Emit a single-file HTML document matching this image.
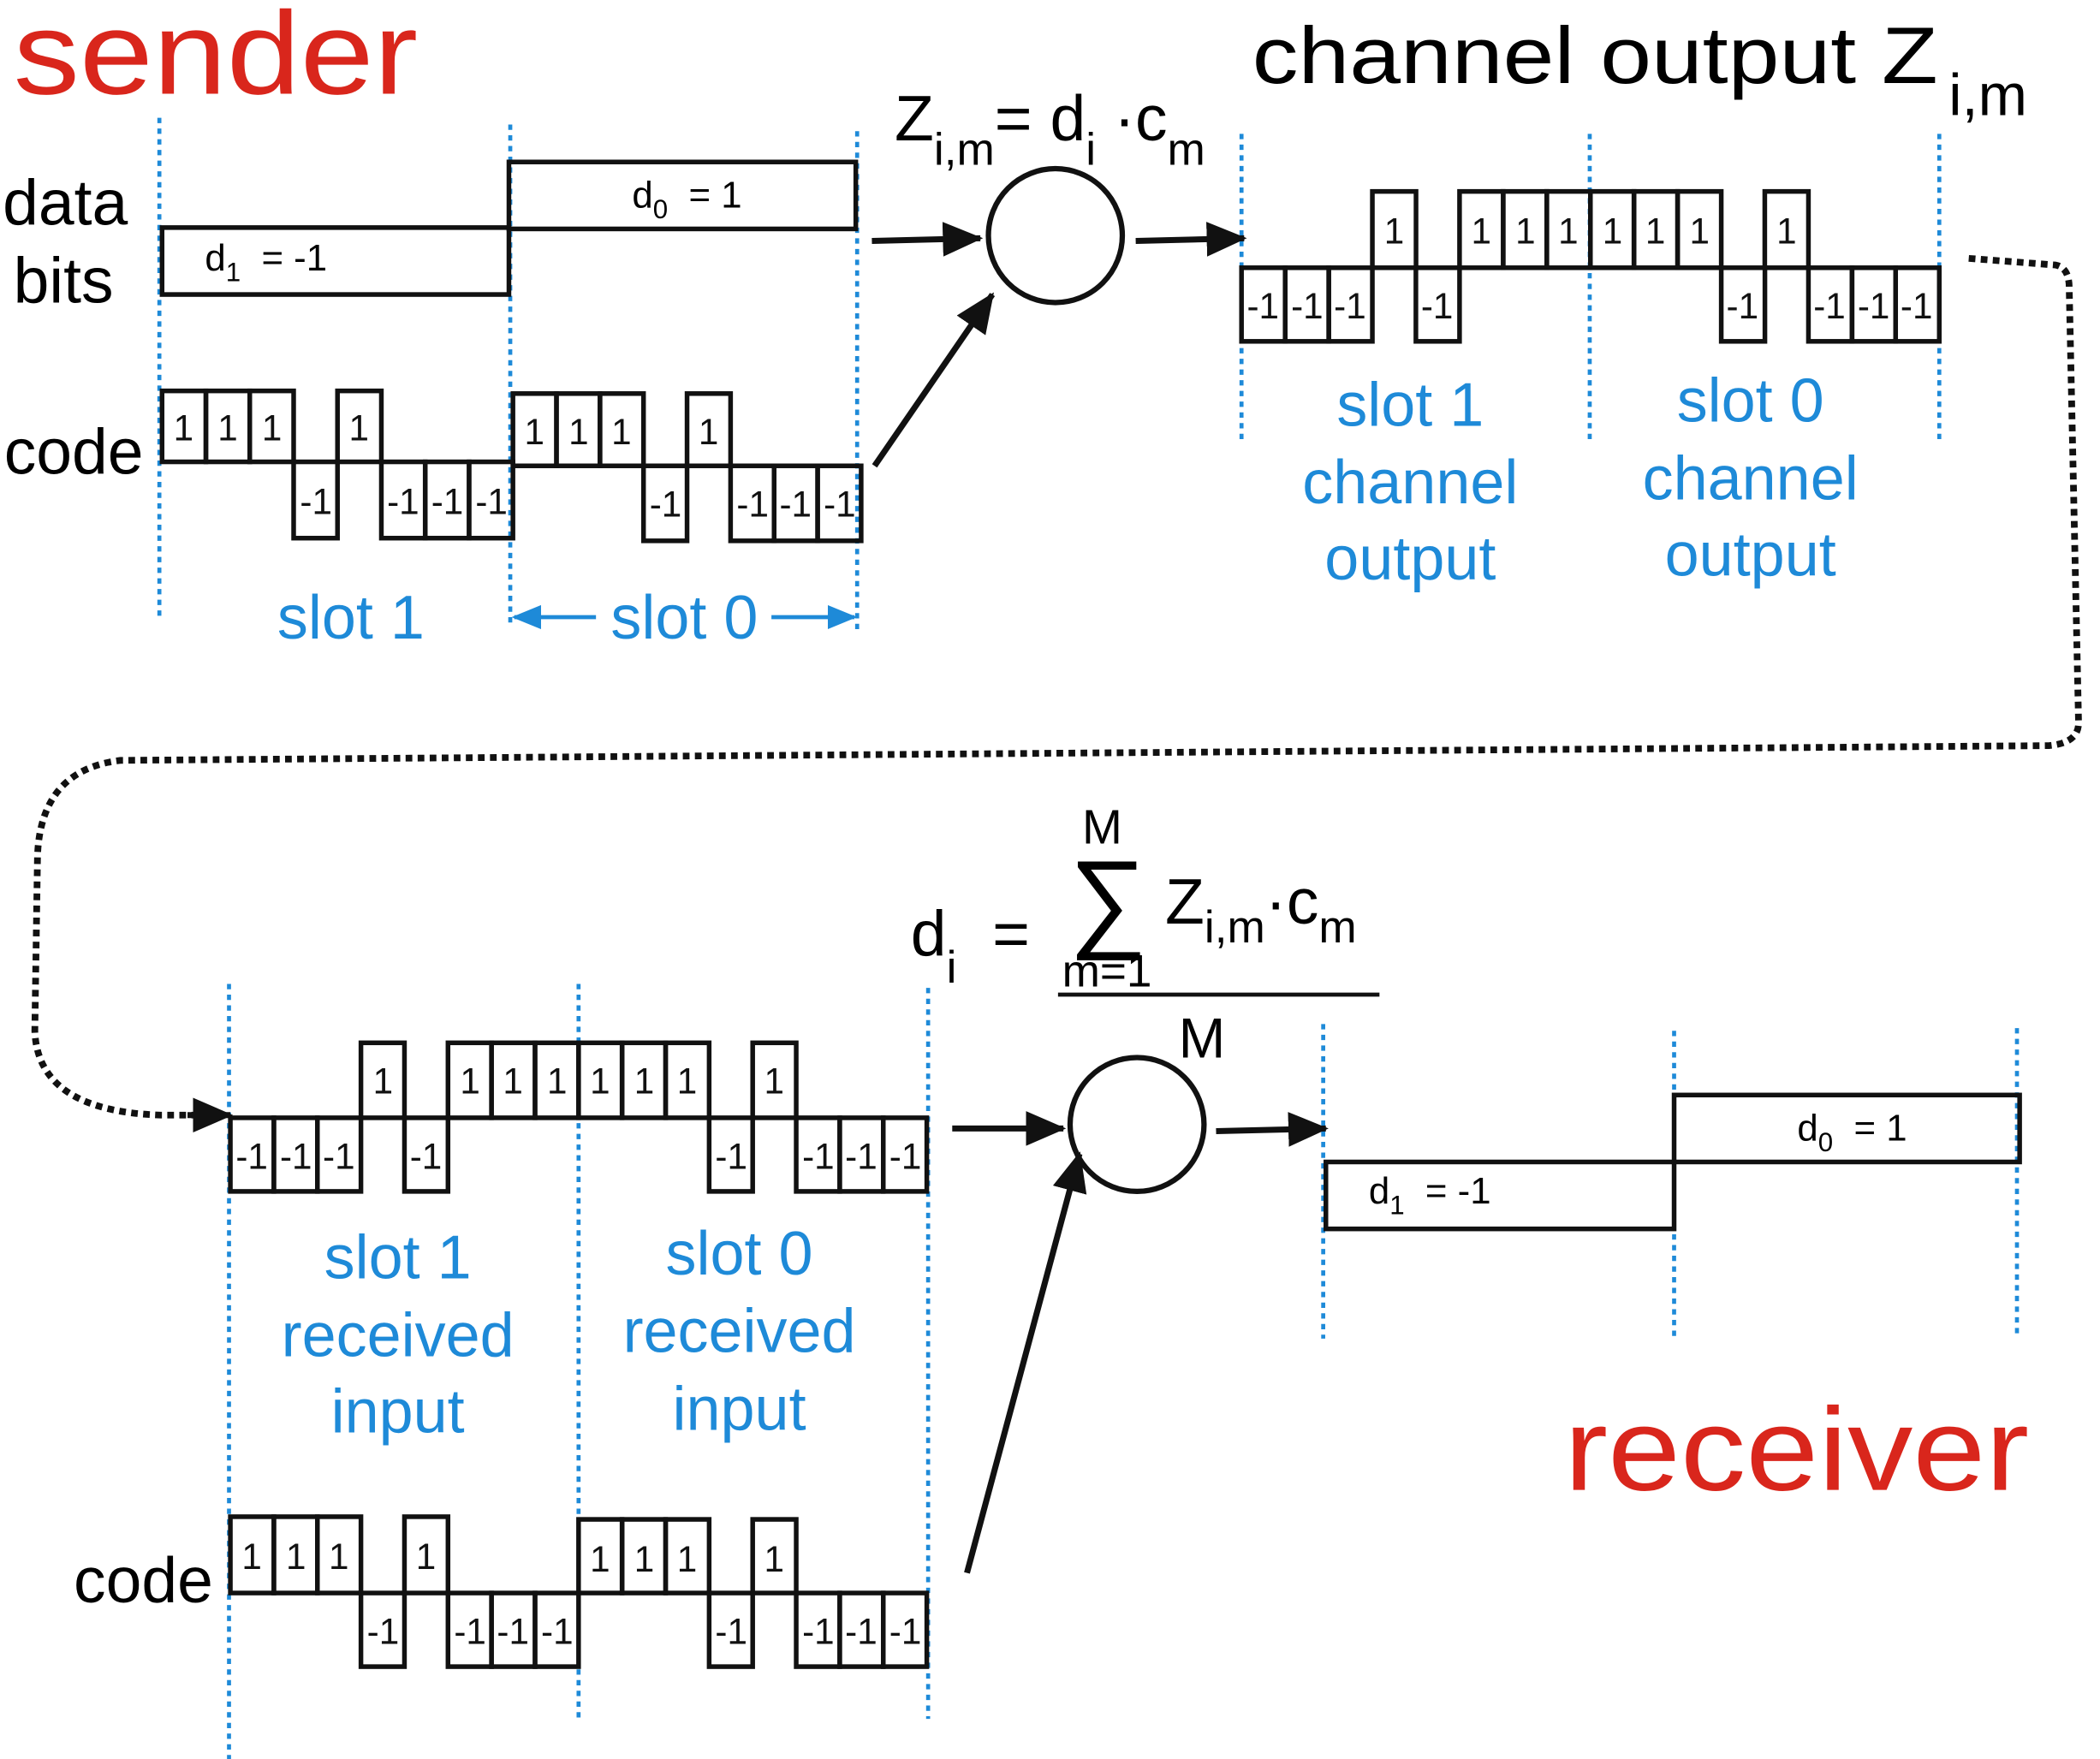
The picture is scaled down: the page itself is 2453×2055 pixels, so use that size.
<!DOCTYPE html>
<html><head><style>
html,body{margin:0;padding:0;background:#fff;}
svg{display:block;}
text{font-family:"Liberation Sans",sans-serif;}
.c{font-size:27px;text-anchor:middle;fill:#111;}
.b{fill:#1e8ad8;font-size:46px;text-anchor:middle;}
.r{fill:none;stroke:#111;stroke-width:3.5;}
.d{stroke:#1e8ad8;stroke-width:3;stroke-dasharray:4 4;}
.a{stroke:#111;stroke-width:4.5;}
</style></head><body>
<svg width="2453" height="2055" viewBox="0 0 1568 1314" preserveAspectRatio="none" xmlns="http://www.w3.org/2000/svg">
<defs>
<marker id="ah" markerWidth="30" markerHeight="26" refX="28" refY="13" orient="auto" markerUnits="userSpaceOnUse"><path d="M0,0 L30,13 L0,26 z" fill="#111"/></marker>
<marker id="bh" markerWidth="22" markerHeight="18" refX="20" refY="9" orient="auto" markerUnits="userSpaceOnUse"><path d="M0,0 L22,9 L0,18 z" fill="#1e8ad8"/></marker></defs>

<line class="d" x1="119" y1="88" x2="119" y2="460"/>
<line class="d" x1="381" y1="93" x2="381" y2="465"/>
<line class="d" x1="640" y1="98" x2="640" y2="470"/>
<line class="d" x1="927" y1="100" x2="927" y2="330"/>
<line class="d" x1="1187" y1="100" x2="1187" y2="330"/>
<line class="d" x1="1448" y1="100" x2="1448" y2="330"/>
<line class="d" x1="171" y1="735" x2="171" y2="1314"/>
<line class="d" x1="432" y1="735" x2="432" y2="1284"/>
<line class="d" x1="693" y1="738" x2="693" y2="1284"/>
<line class="d" x1="988" y1="765" x2="988" y2="1000"/>
<line class="d" x1="1250" y1="770" x2="1250" y2="1000"/>
<line class="d" x1="1506" y1="768" x2="1506" y2="1000"/>

<text x="10" y="70" font-size="88" fill="#d9261c" textLength="302" lengthAdjust="spacingAndGlyphs">sender</text>
<text x="1168" y="1113" font-size="88" fill="#d9261c" textLength="347" lengthAdjust="spacingAndGlyphs">receiver</text>
<text x="2" y="168" font-size="48">data</text>
<text x="10" y="226" font-size="48">bits</text>
<text x="3" y="354" font-size="48">code</text>
<text x="55" y="1197" font-size="48">code</text>

<rect class="r" x="121" y="170" width="259" height="50"/>
<rect class="r" x="380" y="121" width="259" height="50"/>
<text x="153" y="202" font-size="28">d<tspan font-size="20" dy="8">1</tspan><tspan dy="-8"> &#160;= -1</tspan></text>
<text x="472" y="155" font-size="28">d<tspan font-size="20" dy="8">0</tspan><tspan dy="-8"> &#160;= 1</tspan></text>
<rect class="r" x="990" y="868" width="260" height="50"/>
<rect class="r" x="1250" y="818" width="258" height="50"/>
<text x="1022" y="899" font-size="28">d<tspan font-size="20" dy="8">1</tspan><tspan dy="-8"> &#160;= -1</tspan></text>
<text x="1342" y="852" font-size="28">d<tspan font-size="20" dy="8">0</tspan><tspan dy="-8"> &#160;= 1</tspan></text>

<g>
<rect class="r" x="121" y="292" width="32.75" height="53"/><text class="c" x="137" y="329">1</text>
<rect class="r" x="153.75" y="292" width="32.75" height="53"/><text class="c" x="170" y="329">1</text>
<rect class="r" x="186.5" y="292" width="32.75" height="53"/><text class="c" x="203" y="329">1</text>
<rect class="r" x="219.25" y="345" width="32.75" height="57"/><text class="c" x="236" y="384">-1</text>
<rect class="r" x="252" y="292" width="32.75" height="53"/><text class="c" x="268" y="329">1</text>
<rect class="r" x="284.75" y="345" width="32.75" height="57"/><text class="c" x="301" y="384">-1</text>
<rect class="r" x="317.5" y="345" width="32.75" height="57"/><text class="c" x="334" y="384">-1</text>
<rect class="r" x="350.25" y="345" width="32.75" height="57"/><text class="c" x="367" y="384">-1</text>
<rect class="r" x="383" y="294" width="32.5" height="54"/><text class="c" x="399" y="332">1</text>
<rect class="r" x="415.5" y="294" width="32.5" height="54"/><text class="c" x="432" y="332">1</text>
<rect class="r" x="448" y="294" width="32.5" height="54"/><text class="c" x="464" y="332">1</text>
<rect class="r" x="480.5" y="348" width="32.5" height="56"/><text class="c" x="497" y="386">-1</text>
<rect class="r" x="513" y="294" width="32.5" height="54"/><text class="c" x="529" y="332">1</text>
<rect class="r" x="545.5" y="348" width="32.5" height="56"/><text class="c" x="562" y="386">-1</text>
<rect class="r" x="578" y="348" width="32.5" height="56"/><text class="c" x="594" y="386">-1</text>
<rect class="r" x="610.5" y="348" width="32.5" height="56"/><text class="c" x="627" y="386">-1</text>
</g>

<g>
<rect class="r" x="927" y="200" width="32.6" height="55"/><text class="c" x="943" y="238">-1</text>
<rect class="r" x="959.6" y="200" width="32.6" height="55"/><text class="c" x="976" y="238">-1</text>
<rect class="r" x="992.1" y="200" width="32.6" height="55"/><text class="c" x="1008" y="238">-1</text>
<rect class="r" x="1024.7" y="143" width="32.6" height="57"/><text class="c" x="1041" y="182">1</text>
<rect class="r" x="1057.2" y="200" width="32.6" height="55"/><text class="c" x="1073" y="238">-1</text>
<rect class="r" x="1089.8" y="143" width="32.6" height="57"/><text class="c" x="1106" y="182">1</text>
<rect class="r" x="1122.4" y="143" width="32.6" height="57"/><text class="c" x="1139" y="182">1</text>
<rect class="r" x="1154.9" y="143" width="32.6" height="57"/><text class="c" x="1171" y="182">1</text>
<rect class="r" x="1187.5" y="143" width="32.6" height="57"/><text class="c" x="1204" y="182">1</text>
<rect class="r" x="1220" y="143" width="32.6" height="57"/><text class="c" x="1236" y="182">1</text>
<rect class="r" x="1252.6" y="143" width="32.6" height="57"/><text class="c" x="1269" y="182">1</text>
<rect class="r" x="1285.2" y="200" width="32.6" height="55"/><text class="c" x="1301" y="238">-1</text>
<rect class="r" x="1317.7" y="143" width="32.6" height="57"/><text class="c" x="1334" y="182">1</text>
<rect class="r" x="1350.3" y="200" width="32.6" height="55"/><text class="c" x="1366" y="238">-1</text>
<rect class="r" x="1382.8" y="200" width="32.6" height="55"/><text class="c" x="1399" y="238">-1</text>
<rect class="r" x="1415.4" y="200" width="32.6" height="55"/><text class="c" x="1431" y="238">-1</text>
</g>

<g>
<rect class="r" x="172" y="835" width="32.5" height="55"/><text class="c" x="188" y="873">-1</text>
<rect class="r" x="204.5" y="835" width="32.5" height="55"/><text class="c" x="221" y="873">-1</text>
<rect class="r" x="237" y="835" width="32.5" height="55"/><text class="c" x="253" y="873">-1</text>
<rect class="r" x="269.5" y="779" width="32.5" height="56"/><text class="c" x="286" y="817">1</text>
<rect class="r" x="302" y="835" width="32.5" height="55"/><text class="c" x="318" y="873">-1</text>
<rect class="r" x="334.5" y="779" width="32.5" height="56"/><text class="c" x="351" y="817">1</text>
<rect class="r" x="367" y="779" width="32.5" height="56"/><text class="c" x="383" y="817">1</text>
<rect class="r" x="399.5" y="779" width="32.5" height="56"/><text class="c" x="416" y="817">1</text>
<rect class="r" x="432" y="779" width="32.5" height="56"/><text class="c" x="448" y="817">1</text>
<rect class="r" x="464.5" y="779" width="32.5" height="56"/><text class="c" x="481" y="817">1</text>
<rect class="r" x="497" y="779" width="32.5" height="56"/><text class="c" x="513" y="817">1</text>
<rect class="r" x="529.5" y="835" width="32.5" height="55"/><text class="c" x="546" y="873">-1</text>
<rect class="r" x="562" y="779" width="32.5" height="56"/><text class="c" x="578" y="817">1</text>
<rect class="r" x="594.5" y="835" width="32.5" height="55"/><text class="c" x="611" y="873">-1</text>
<rect class="r" x="627" y="835" width="32.5" height="55"/><text class="c" x="643" y="873">-1</text>
<rect class="r" x="659.5" y="835" width="32.5" height="55"/><text class="c" x="676" y="873">-1</text>
</g>

<g>
<rect class="r" x="172" y="1133" width="32.5" height="57"/><text class="c" x="188" y="1172">1</text>
<rect class="r" x="204.5" y="1133" width="32.5" height="57"/><text class="c" x="221" y="1172">1</text>
<rect class="r" x="237" y="1133" width="32.5" height="57"/><text class="c" x="253" y="1172">1</text>
<rect class="r" x="269.5" y="1190" width="32.5" height="55"/><text class="c" x="286" y="1228">-1</text>
<rect class="r" x="302" y="1133" width="32.5" height="57"/><text class="c" x="318" y="1172">1</text>
<rect class="r" x="334.5" y="1190" width="32.5" height="55"/><text class="c" x="351" y="1228">-1</text>
<rect class="r" x="367" y="1190" width="32.5" height="55"/><text class="c" x="383" y="1228">-1</text>
<rect class="r" x="399.5" y="1190" width="32.5" height="55"/><text class="c" x="416" y="1228">-1</text>
<rect class="r" x="432" y="1135" width="32.5" height="55"/><text class="c" x="448" y="1174">1</text>
<rect class="r" x="464.5" y="1135" width="32.5" height="55"/><text class="c" x="481" y="1174">1</text>
<rect class="r" x="497" y="1135" width="32.5" height="55"/><text class="c" x="513" y="1174">1</text>
<rect class="r" x="529.5" y="1190" width="32.5" height="55"/><text class="c" x="546" y="1228">-1</text>
<rect class="r" x="562" y="1135" width="32.5" height="55"/><text class="c" x="578" y="1174">1</text>
<rect class="r" x="594.5" y="1190" width="32.5" height="55"/><text class="c" x="611" y="1228">-1</text>
<rect class="r" x="627" y="1190" width="32.5" height="55"/><text class="c" x="643" y="1228">-1</text>
<rect class="r" x="659.5" y="1190" width="32.5" height="55"/><text class="c" x="676" y="1228">-1</text>
</g>

<text class="b" x="262" y="477">slot 1</text>
<text class="b" x="511" y="477">slot 0</text>
<line x1="445" y1="461" x2="384" y2="461" stroke="#1e8ad8" stroke-width="3" marker-end="url(#bh)"/>
<line x1="576" y1="461" x2="638" y2="461" stroke="#1e8ad8" stroke-width="3" marker-end="url(#bh)"/>
<text class="b" x="1053" y="318">slot 1</text>
<text class="b" x="1053" y="376">channel</text>
<text class="b" x="1053" y="433">output</text>
<text class="b" x="1307" y="315">slot 0</text>
<text class="b" x="1307" y="373">channel</text>
<text class="b" x="1307" y="430">output</text>
<text class="b" x="297" y="955">slot 1</text>
<text class="b" x="297" y="1013">received</text>
<text class="b" x="297" y="1070">input</text>
<text class="b" x="552" y="952">slot 0</text>
<text class="b" x="552" y="1010">received</text>
<text class="b" x="552" y="1068">input</text>

<text x="935" y="62" font-size="60" textLength="512" lengthAdjust="spacingAndGlyphs">channel output Z</text>
<text x="1455" y="86" font-size="44">i,m</text>
<text x="668" y="105" font-size="48">Z<tspan font-size="34" dy="18">i,m</tspan><tspan dy="-18">= d</tspan><tspan font-size="34" dy="18">i</tspan><tspan dy="-18"> ·c</tspan><tspan font-size="34" dy="18">m</tspan></text>
<text x="680" y="714" font-size="48">d<tspan font-size="34" dy="20">i</tspan><tspan dy="-20"> &#160;=</tspan></text>
<text x="808" y="630" font-size="36">M</text>
<text x="798" y="700" font-size="82">&#8721;</text>
<text x="793" y="737" font-size="34">m=1</text>
<text x="870" y="690" font-size="48">Z<tspan font-size="34" dy="14">i,m</tspan><tspan dy="-14">·c</tspan><tspan font-size="34" dy="14">m</tspan></text>
<line x1="790" y1="743" x2="1030" y2="743" stroke="#111" stroke-width="3"/>
<text x="880" y="790" font-size="42">M</text>

<circle cx="788" cy="176" r="50" fill="none" stroke="#111" stroke-width="4"/>
<circle cx="849" cy="840" r="50" fill="none" stroke="#111" stroke-width="4"/>

<line class="a" x1="651" y1="180" x2="732" y2="178" marker-end="url(#ah)"/>
<line class="a" x1="848" y1="180" x2="929" y2="178" marker-end="url(#ah)"/>
<line class="a" x1="653" y1="348" x2="741" y2="220" marker-end="url(#ah)"/>
<line class="a" x1="711" y1="843" x2="794" y2="843" marker-end="url(#ah)"/>
<line class="a" x1="908" y1="845" x2="990" y2="843" marker-end="url(#ah)"/>
<line class="a" x1="722" y1="1175" x2="806" y2="862" marker-end="url(#ah)"/>

<path d="M1470,193 L1535,198 Q1545,200 1545,215 L1552,540 Q1552,555 1530,557 L90,568 Q30,575 28,640 L26,770 Q28,830 120,833 L150,833" fill="none" stroke="#111" stroke-width="5" stroke-dasharray="5 4"/>
<line class="a" x1="140" y1="833" x2="172" y2="833" marker-end="url(#ah)"/>
</svg>
</body></html>
